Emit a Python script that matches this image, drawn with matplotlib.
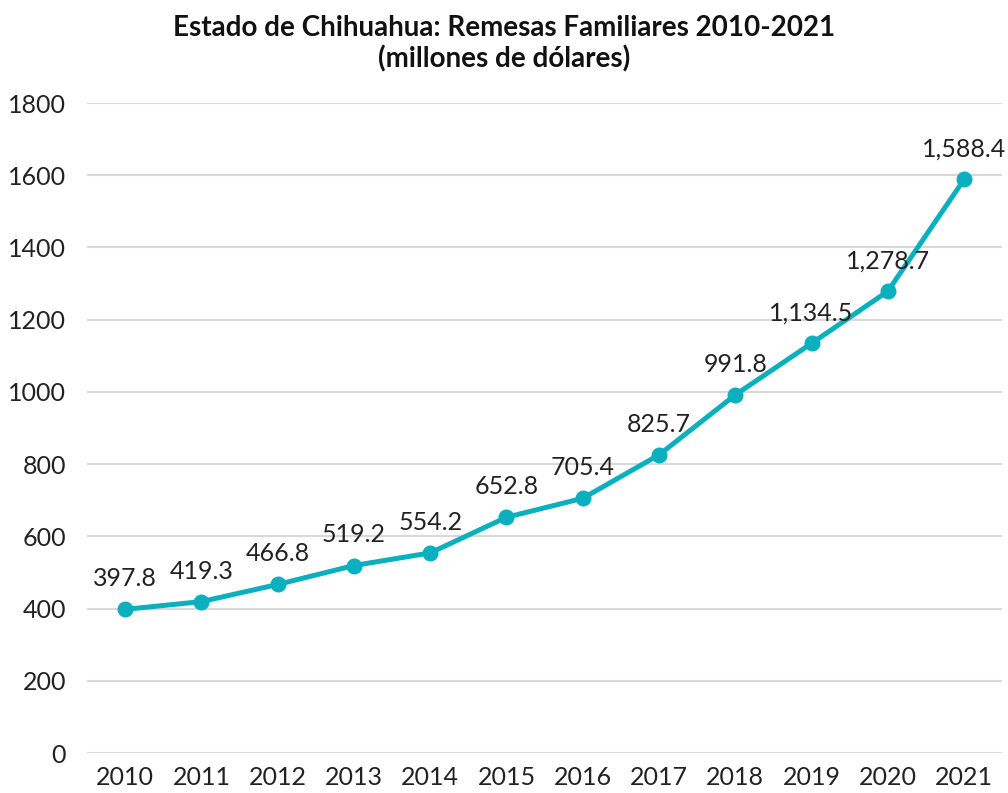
import matplotlib.pyplot as plt

# data
years = ["2010", "2011", "2012", "2013", "2014", "2015",
         "2016", "2017", "2018", "2019", "2020", "2021"]
remesas = [397.8, 419.3, 466.8, 519.2, 554.2, 652.8,
           705.4, 825.7, 991.8, 1134.5, 1278.7, 1588.4]
y_ticks = [0, 200, 400, 600, 800, 1000, 1200, 1400, 1600, 1800]

plt.rcParams['font.family'] = ['Lato', 'DejaVu Sans']

fig = plt.figure(figsize=(10.08, 7.93), dpi=100)
ax = fig.add_axes([0.0863, 0.0504, 0.908, 0.8197])

x = list(range(len(years)))
ax.plot(x, remesas, color="#0BB0BE", linewidth=3.6, marker="o",
        markersize=10.5, zorder=3)

# value labels above each point
for xi, val in zip(x, remesas):
    ax.annotate(f"{val:,.1f}", (xi, val), xytext=(0, 22),
                textcoords="offset points", ha="center", va="center",
                fontsize=18, color="#222222")

ax.set_xlim(-0.5, len(years) - 0.5)
ax.set_ylim(0, 1800)
ax.set_yticks(y_ticks)
ax.set_xticks(x)
ax.set_xticklabels(years)
ax.tick_params(axis="both", length=0, labelsize=18, labelcolor="#222222")
ax.tick_params(axis="y", pad=15)
ax.tick_params(axis="x", pad=9)
ax.grid(axis="y", color="#d9d9d9", linewidth=1.5)
ax.set_axisbelow(True)
for s in ax.spines.values():
    s.set_visible(False)

fig.text(0.5, 0.945, "Estado de Chihuahua: Remesas Familiares 2010-2021\n(millones de dólares)",
         ha="center", va="center", fontsize=20, fontweight="bold",
         linespacing=1.2, color="#111111")

fig.savefig("out.png", dpi=100)
